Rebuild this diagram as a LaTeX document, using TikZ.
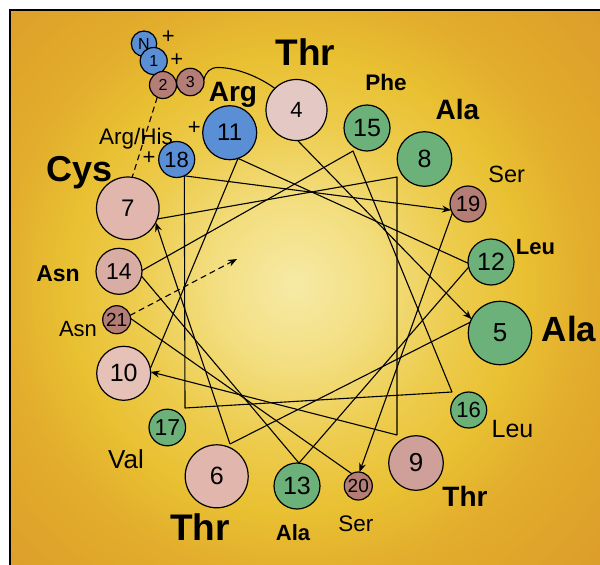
\documentclass[tikz,border=0pt]{standalone}
\usepackage{fontspec}
\setmainfont{Liberation Sans}
\usetikzlibrary{arrows.meta}
\definecolor{g0}{HTML}{F6EAA6}
\definecolor{g1}{HTML}{F3DF82}
\definecolor{g2}{HTML}{EDCC4E}
\definecolor{g3}{HTML}{E9C032}
\definecolor{g4}{HTML}{E2AC2C}
\definecolor{g5}{HTML}{DC9D2A}
\definecolor{blueC}{HTML}{5B8FD5}
\definecolor{greenC}{HTML}{6CB17A}
\definecolor{brownC}{HTML}{B47D75}
\definecolor{pinkA}{HTML}{E4C8C3}
\definecolor{pinkB}{HTML}{E0B6AD}
\definecolor{pinkC}{HTML}{E6C1B8}
\definecolor{pinkD}{HTML}{CEA099}
\definecolor{pinkE}{HTML}{D9ACA4}
\begin{document}
\begin{tikzpicture}[x=1pt,y=-1pt,
  res/.style={circle,draw=black,line width=1.2pt,inner sep=0pt,outer sep=0pt},
  fs/.style={font=\fontsize{#1}{#1}\selectfont},
  fb/.style={font=\fontsize{#1}{#1}\selectfont\bfseries},
  lbl/.style={anchor=base,inner sep=0pt},
  plus/.style={inner sep=0pt,font=\fontsize{22}{22}\selectfont},
  conn/.style={line width=1.1pt,line join=round},
  arr/.style={conn,-{Stealth[length=9pt,width=7pt]}},
  dsh/.style={line width=1.1pt,dash pattern=on 6pt off 4pt}
]
\useasboundingbox (0,0) rectangle (600,565);
\fill[white] (0,0) rectangle (600,565);
\begin{scope}
\clip (10,10) rectangle (600,565);
\fill[g5] (10,10) rectangle (600,565);
\foreach \ra/\rb/\ca/\cb in {300/420/g4/g5,230/300/g3/g4,160/230/g2/g3,80/160/g1/g2,0/80/g0/g1}{
  \foreach \s in {0,...,29}{
    \pgfmathsetmacro\rr{\rb-(\rb-\ra)*\s/30}
    \pgfmathtruncatemacro\pp{100*(\rr-\ra)/(\rb-\ra)}
    \fill[\cb!\pp!\ca] (295,285) circle[radius=\rr];
  }
}
\end{scope}
\draw[line width=2pt] (600,10) -- (10,10) -- (10,565);

% residues
\node[res,fill=blueC,minimum size=25.4pt,fs=16] (nN) at (144,43.7) {N};
\node[res,fill=blueC,minimum size=27pt,fs=16] (n1) at (153.7,61) {1};
\node[res,fill=brownC,minimum size=27pt,fs=16] (n2) at (163,85) {2};
\node[res,fill=brownC,minimum size=27.4pt,fs=16] (n3) at (190.3,82) {3};
\node[res,fill=pinkA,minimum size=61pt,fs=22] (n4) at (296.5,110) {4};
\node[res,fill=greenC,minimum size=63.4pt,fs=26] (n5) at (500,333) {5};
\node[res,fill=pinkB,minimum size=63pt,fs=25] (n6) at (216.7,476.3) {6};
\node[res,fill=pinkB,minimum size=62.6pt,fs=24] (n7) at (127.8,208.3) {7};
\node[res,fill=greenC,minimum size=54.6pt,fs=25] (n8) at (424.5,159) {8};
\node[res,fill=pinkD,minimum size=54.6pt,fs=26] (n9) at (416,463) {9};
\node[res,fill=pinkC,minimum size=54pt,fs=25] (n10) at (123.7,373.3) {10};
\node[res,fill=blueC,minimum size=54pt,fs=24] (n11) at (229.7,132.7) {11};
\node[res,fill=greenC,minimum size=46pt,fs=25] (n12) at (491,262) {12};
\node[res,fill=greenC,minimum size=46pt,fs=25] (n13) at (297,486) {13};
\node[res,fill=pinkE,minimum size=46pt,fs=23] (n14) at (119,271.3) {14};
\node[res,fill=greenC,minimum size=46pt,fs=25] (n15) at (367,128) {15};
\node[res,fill=greenC,minimum size=36pt,fs=22] (n16) at (468.7,410) {16};
\node[res,fill=greenC,minimum size=36.6pt,fs=23] (n17) at (167.3,427.5) {17};
\node[res,fill=blueC,minimum size=36pt,fs=22] (n18) at (176.7,159.5) {18};
\node[res,fill=brownC,minimum size=36pt,fs=22] (n19) at (468,204) {19};
\node[res,fill=brownC,minimum size=28pt,fs=19] (n20) at (358.3,486) {20};
\node[res,fill=brownC,minimum size=28pt,fs=19] (n21) at (116.7,319.7) {21};

% corner points of the wheel path
\coordinate (c6) at (230,444);
\coordinate (c8) at (397,177);
\coordinate (c9) at (397,435);
\coordinate (c15) at (353,151);
\coordinate (c16) at (452,392);
\coordinate (c17) at (185,408);
\coordinate (c0) at (237,259);

% connectors
\draw[conn] (n3.10) .. controls (206,72) and (210,67.5) .. (218,67.5) .. controls (235,67.5) and (258,76) .. (n4.135);
\draw[arr] (n4.-88) -- (n5.154);
\draw[conn] (n5.160) -- (c6);
\draw[arr] (c6) -- (n7.-27);
\draw[conn] (n7.-20) -- (c8) -- (c9);
\draw[arr] (c9) -- (n10.3);
\draw[conn] (n10.10) -- (n11.-72) -- (n12.183);
\draw[conn] (n12.193) -- (n13.85) -- (n14.-12);
\draw[conn] (n14.2) -- (c15) -- (c16) -- (c17) -- (n18.-65);
\draw[arr] (n18.-65) -- (n19.200);
\draw[arr] (n19.210) -- (n20.85);
\draw[conn] (n20.118) -- (n21.5);
\draw[dsh,-{Stealth[length=9pt,width=7pt]}] (n21.18) -- (c0);
\draw[dsh] (n2.-115) -- (n7.82);

% plus signs
\node[plus] (pN) at (168.3,36.7) {+};
\node[plus] (p1) at (176.7,60) {+};
\node[plus] (p11) at (194.3,128.3) {+};
\node[plus] (p18) at (149,158.5) {+};

% labels
\node[lbl,fb=37] (tThrA) at (305.5,65) {Thr};
\node[lbl,fb=22.5] (tPhe) at (386,90) {Phe};
\node[lbl,fb=28] (tAlaA) at (457.5,119.3) {Ala};
\node[lbl,fs=23.5] (tSerA) at (506.7,182.5) {Ser};
\node[lbl,fb=22] (tLeuA) at (535.5,254) {Leu};
\node[lbl,fb=35] (tAlaB) at (569,341.7) {Ala};
\node[lbl,fs=25] (tLeuB) at (512.5,437.3) {Leu};
\node[lbl,fb=28] (tThrB) at (465,506.7) {Thr};
\node[lbl,fs=22.5] (tSerB) at (355.8,531.7) {Ser};
\node[lbl,fb=22] (tAlaC) at (293,540) {Ala};
\node[lbl,fb=37] (tThrC) at (200,540) {Thr};
\node[lbl,fs=26] (tVal) at (126,468) {Val};
\node[lbl,fs=22] (tAsnA) at (78,336.7) {Asn};
\node[lbl,fb=23] (tAsnB) at (58,281) {Asn};
\node[lbl,fb=36] (tCys) at (80,181.7) {Cys};
\node[lbl,fs=22.5] (tArgHis) at (136,144.5) {Arg/His};
\node[lbl,fb=28] (tArg) at (233,101.7) {Arg};
\end{tikzpicture}
\end{document}
